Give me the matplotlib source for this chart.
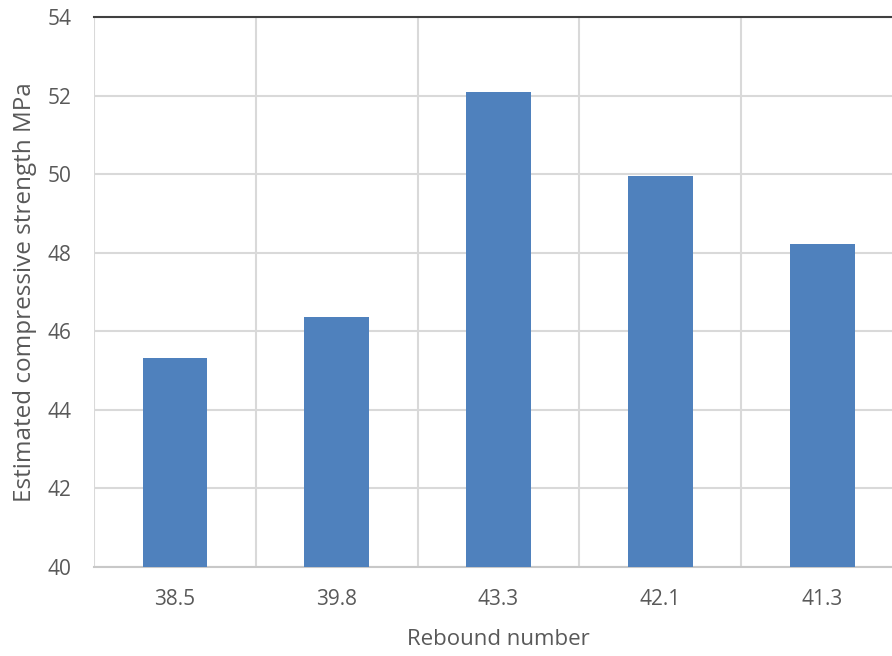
import matplotlib.pyplot as plt

plt.rcParams['font.family'] = ['Open Sans', 'DejaVu Sans']

# Rebound hammer readings and estimated strengths
rebound_numbers = ['38.5', '39.8', '43.3', '42.1', '41.3']
strength_mpa = [45.32, 46.37, 52.08, 49.96, 48.21]

text_grey = '#595959'
grid_grey = '#d9d9d9'

fig = plt.figure(figsize=(8.92, 6.56), dpi=100)
ax = fig.add_axes([0.1054, 0.1357, 0.907, 0.8384])

x = range(len(rebound_numbers))
ax.bar(x, strength_mpa, width=0.4, color='#4f81bd', zorder=3)

ax.set_xlim(-0.5, len(rebound_numbers) - 0.5)
ax.set_ylim(40, 54)
ax.set_yticks(range(40, 55, 2))
ax.set_xticks(list(x))
ax.set_xticklabels(rebound_numbers)

# category boundaries as vertical gridlines
ax.set_xticks([i + 0.5 for i in range(-1, len(rebound_numbers))], minor=True)
ax.grid(axis='y', which='major', color=grid_grey, linewidth=1.5, zorder=0)
ax.grid(axis='x', which='minor', color=grid_grey, linewidth=1.5, zorder=0)
ax.tick_params(axis='both', which='both', length=0, labelsize=15, colors=text_grey)
ax.tick_params(axis='y', pad=16)
ax.tick_params(axis='x', pad=16)

for side in ['left', 'right']:
    ax.spines[side].set_visible(False)
ax.spines['bottom'].set_color('#c8c8c8')
ax.spines['bottom'].set_linewidth(1.5)
ax.spines['top'].set_color('#404040')
ax.spines['top'].set_linewidth(1.5)

ax.set_ylabel('Estimated compressive strength MPa', fontsize=17.5, color=text_grey)
ax.set_xlabel('Rebound number', fontsize=16, color=text_grey)
ax.yaxis.set_label_coords(-0.071, 0.5)
ax.xaxis.set_label_coords(0.5, -0.113)

fig.savefig('out.png', dpi=100)
